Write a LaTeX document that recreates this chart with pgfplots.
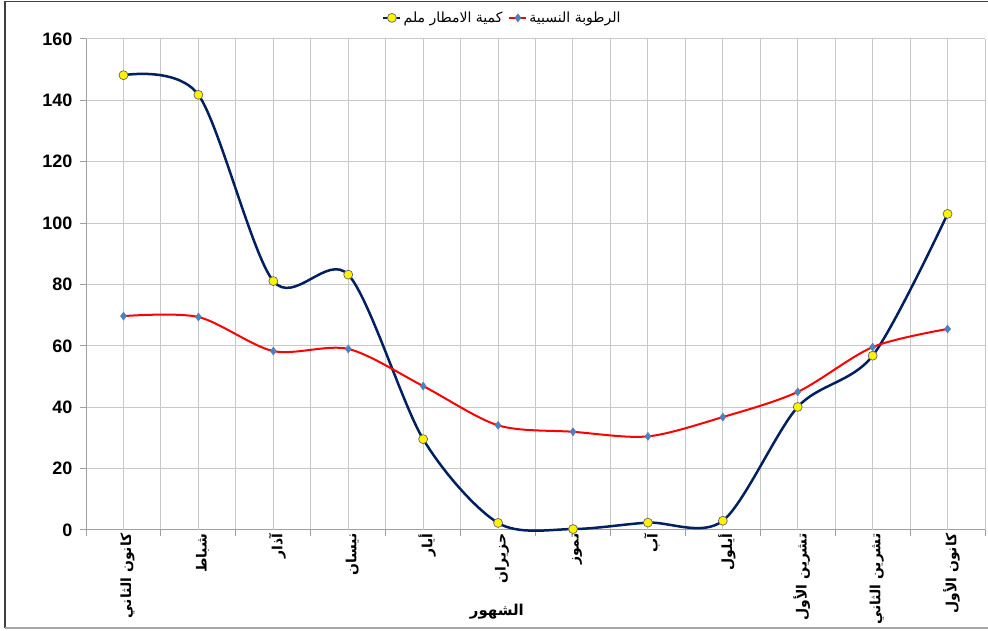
\documentclass[border=0pt]{standalone}
\usepackage{fontspec}
\setmainfont{Liberation Sans}
\newfontfamily\arabicfont[Script=Arabic]{DejaVu Sans}
\TeXXeTstate=1
\usepackage{pgfplots}
\pgfplotsset{compat=1.18}
\definecolor{navy}{RGB}{0,32,96}
\definecolor{diam}{RGB}{79,129,189}
\definecolor{gridc}{RGB}{200,200,200}
\definecolor{axc}{RGB}{160,160,160}
\begin{document}
\begin{tikzpicture}
\begin{axis}[
  width=899pt, height=491pt, scale only axis,
  xmin=-0.5, xmax=11.5, ymin=0, ymax=160,
  clip=false,
  axis x line*=bottom, axis y line*=left,
  axis line style={axc, line width=1pt},
  xtick={-0.5,0.5,...,11.5},
  xticklabels={},
  extra x ticks={0,1,...,11},
  extra x tick labels={{\arabicfont\beginR كانون الثاني\endR},{\arabicfont\beginR شباط\endR},{\arabicfont\beginR آذار\endR},{\arabicfont\beginR نيسان\endR},{\arabicfont\beginR أيار\endR},{\arabicfont\beginR حزيران\endR},{\arabicfont\beginR تموز\endR},{\arabicfont\beginR آب\endR},{\arabicfont\beginR أيلول\endR},{\arabicfont\beginR تشرين الأول\endR},{\arabicfont\beginR تشرين الثاني\endR},{\arabicfont\beginR كانون الأول\endR}},
  extra x tick style={major tick length=0pt, grid=major,
     xticklabel style={rotate=90, anchor=east, font=\fontsize{14}{16}\selectfont\bfseries, yshift=-4pt}},
  ytick={0,20,...,160},
  grid=major,
  major grid style={gridc, line width=1pt},
  tick align=outside,
  major tick length=6pt,
  tick style={axc, line width=1pt},
  yticklabel style={font=\fontsize{18}{20}\selectfont\bfseries, xshift=-4pt},
  /pgf/number format/assume math mode=true,
  xlabel={\arabicfont\beginR الشهور\endR},
  xlabel style={at={(axis description cs:0.457,-0.167)}, anchor=center, font=\fontsize{15}{17}\selectfont\bfseries},
  legend style={at={(axis description cs:0.463,1.043)}, anchor=center, draw=none, fill=none,
     legend columns=2, font=\fontsize{14}{16}\selectfont,
     /tikz/every even column/.append style={column sep=4pt}},
]
\addplot[navy, line width=2.5pt, smooth, tension=0.5, mark=*, mark size=4.5pt,
  mark options={fill=yellow, draw=black!60, line width=0.7pt}]
  coordinates {(0,148.2) (1,141.8) (2,81.1) (3,83.2) (4,29.6) (5,2.3) (6,0.3) (7,2.4) (8,3.0) (9,40.1) (10,56.8) (11,103.0)};
\addlegendentry{\arabicfont\beginR كمية الامطار ملم\endR}
\addplot[red, line width=2pt, smooth, tension=0.5, mark=diamond*, mark size=4pt,
  mark options={fill=diam, draw=diam, line width=0.5pt}]
  coordinates {(0,69.7) (1,69.4) (2,58.3) (3,59.0) (4,46.9) (5,34.1) (6,32.0) (7,30.5) (8,36.8) (9,45.0) (10,59.6) (11,65.5)};
\addlegendentry{\arabicfont\beginR الرطوبة النسبية\endR}
\coordinate (BL) at (axis description cs:-0.0957,-0.2037);
\coordinate (TR) at (axis description cs:1.0033,1.0794);
\end{axis}
\pgfresetboundingbox
\useasboundingbox (BL) rectangle (TR);
\draw[black!75, line width=1.2pt] ([shift={(5pt,2pt)}]BL) |- ([shift={(0pt,-1.5pt)}]TR);
\draw[gray!70, line width=1.2pt] ([shift={(5pt,2pt)}]BL) -- ([shift={(0pt,2pt)}]BL -| TR);
\end{tikzpicture}
\end{document}
